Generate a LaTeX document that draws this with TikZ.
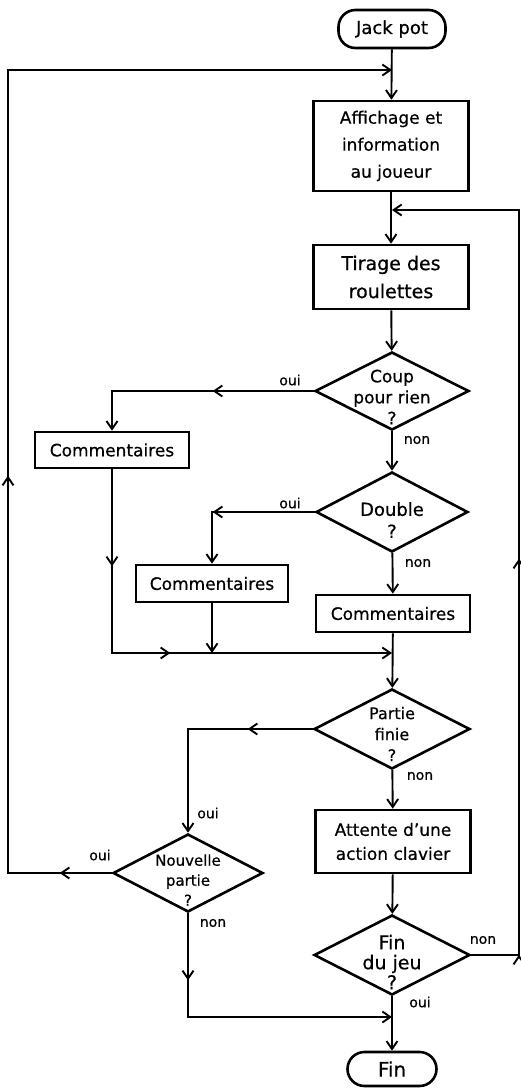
\documentclass[tikz,border=0pt]{standalone}
\usepackage{fontspec}
\setmainfont{DejaVu Sans}[FakeBold=0.6]
\usetikzlibrary{shapes.geometric,arrows.meta,decorations.markings}
\begin{document}
\begin{tikzpicture}[x=1pt,y=-1pt,
  >={Straight Barb[length=8pt,width=11pt]},
  every node/.style={font=\fontsize{17}{21}\selectfont},
  box/.style={draw,line width=2.6pt,rectangle,inner sep=0pt,align=center},
  term/.style={draw,line width=2.6pt,rectangle,rounded corners=17pt,inner sep=0pt},
  dia/.style={draw,line width=2.6pt,diamond,inner sep=0pt},
  dtext/.style={align=center},
  lab/.style={font=\fontsize{14}{16}\selectfont},
  conn/.style={line width=1.9pt},
  ma/.style={postaction={decorate,decoration={markings,mark=at position #1 with {\arrow{>}}}}}
]
\useasboundingbox (0,0) rectangle (521,1088);

% nodes
\node[term,minimum width=107pt,minimum height=38pt,font=\fontsize{18}{20}\selectfont] (jack) at (392,29) {Jack pot};
\node[box,minimum width=155pt,minimum height=90pt,font=\fontsize{17}{27}\selectfont] (aff) at (391,146) {Affichage et\\information\\au joueur};
\node[box,minimum width=155pt,minimum height=64pt,font=\fontsize{19}{28}\selectfont] (tir) at (391,277) {Tirage des\\roulettes};
\node[dia,minimum width=154pt,minimum height=78pt,
  label={[dtext,yshift=-6pt]center:Coup\\pour rien\\?}] (coup) at (392,391) {};
\node[box,minimum width=154pt,minimum height=36pt] (com1) at (112,450) {Commentaires};
\node[dia,minimum width=152pt,minimum height=80pt,
  label={[dtext,yshift=-8pt,font=\fontsize{18}{22}\selectfont]center:Double\\?}] (dbl) at (392,512) {};
\node[box,minimum width=152pt,minimum height=37pt] (com2) at (212,583.5) {Commentaires};
\node[box,minimum width=154pt,minimum height=37pt] (com3) at (393,613.5) {Commentaires};
\node[dia,minimum width=156pt,minimum height=80pt,
  label={[dtext,yshift=-5pt,font=\fontsize{16}{21}\selectfont]center:Partie\\finie\\?}] (part) at (392,729) {};
\node[box,minimum width=155pt,minimum height=63pt,font=\fontsize{17}{24}\selectfont] (att) at (393,841.5) {Attente d'une\\action clavier};
\node[dia,minimum width=150pt,minimum height=78pt,
  label={[dtext,yshift=-7pt,font=\fontsize{15}{20}\selectfont]center:Nouvelle\\partie\\?}] (nouv) at (188,873) {};
\node[dia,minimum width=156pt,minimum height=80pt,
  label={[dtext,yshift=-7pt,font=\fontsize{19}{20}\selectfont]center:Fin\\du jeu\\?}] (fdj) at (392,955) {};
\node[term,minimum width=89pt,minimum height=34pt,font=\fontsize{20}{22}\selectfont] (fin) at (392,1069) {Fin};

% labels
\node[lab] (o1) at (290,380) {oui};
\node[lab] (n1) at (417,440) {non};
\node[lab] (o2) at (290,503) {oui};
\node[lab] (n2) at (418,563) {non};
\node[lab] (n3) at (420,776) {non};
\node[lab] (o3) at (208,813) {oui};
\node[lab] (o4) at (100,855) {oui};
\node[lab] (n4) at (213,923) {non};
\node[lab] (n5) at (483,940) {non};
\node[lab] (o5) at (420,1002) {oui};

% junction coordinates
\coordinate (j1) at (392,70);
\coordinate (j2) at (392,210);
\coordinate (c1) at (112,391);
\coordinate (c2) at (212,512);
\coordinate (c3) at (112,653);
\coordinate (m1b) at (212,653);
\coordinate (m1) at (392,653);
\coordinate (c4) at (188,729);
\coordinate (l1) at (8,873);
\coordinate (l2) at (8,70);
\coordinate (c5) at (188,1017);
\coordinate (m2) at (392,1017);
\coordinate (r1) at (519,955);
\coordinate (r2) at (519,210);

% connectors
\draw[conn,->] (jack) -- (aff);
\draw[conn,->] (aff) -- (tir);
\draw[conn,->] (tir) -- (coup);
\draw[conn,->,ma=101pt] (coup.west) -- (c1) -- (com1.north);
\draw[conn,->] (coup) -- (dbl);
\draw[conn,->,ma=102pt] (dbl.west) -- (c2) -- (com2.north);
\draw[conn,->] (dbl) -- (com3);
\draw[conn,->,ma=97pt,ma=242pt] (com1.south) -- (c3) -- (m1);
\draw[conn,->] (com2.south) -- (m1b);
\draw[conn,->] (com3) -- (part);
\draw[conn,->,ma=65pt] (part.west) -- (c4) -- (nouv.north);
\draw[conn,->] (part) -- (att);
\draw[conn,->] (att) -- (fdj);
\draw[conn,->,ma=52pt,ma=501pt] (nouv.west) -- (l1) -- (l2) -- (j1);
\draw[conn,->,ma=67pt] (nouv.south) -- (c5) -- (m2);
\draw[conn,->] (fdj) -- (fin);
\draw[conn,->,ma=48pt,ma=444pt] (fdj.east) -- (r1) -- (r2) -- (j2);
\end{tikzpicture}
\end{document}
